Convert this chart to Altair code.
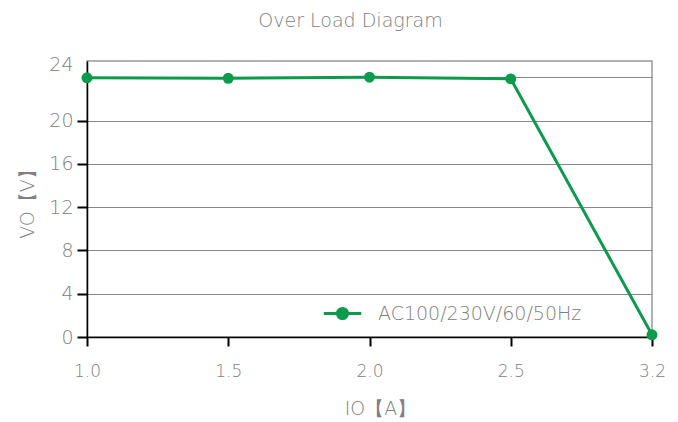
import altair as alt
import pandas as pd

io_values = ["1.0", "1.5", "2.0", "2.5", "3.2"]
vo_values = [23.95, 23.9, 24.0, 23.85, 0.2]
series_name = ["AC100/230V/60/50Hz"] * 5
y_ticks = [0, 4, 8, 12, 16, 20, 24]

df = pd.DataFrame({"IO": io_values, "VO": vo_values, "series": series_name})

GREEN = "#0c9b4c"
GRAY = "#808080"
FONT = "DejaVu Sans"
W = 200

legend_symbol = "M-1,0L1,0M-0.27,0a0.27,0.27 0 1,0 0.54,0a0.27,0.27 0 1,0 -0.54,0"

x_enc = alt.X(
    "IO:O",
    sort=io_values,
    scale=alt.Scale(type="point", padding=0),
    axis=alt.Axis(
        title="IO【A】",
        labelAngle=0,
        grid=False,
        domainColor="black",
        domainWidth=1.5,
        tickColor="black",
        tickWidth=2,
        tickSize=9,
        labelPadding=17,
        labelFontSize=17,
        labelColor=GRAY,
        labelFont=FONT,
        labelFontWeight=W,
        titleFont=FONT,
        titleFontWeight=W,
        titleFontSize=19,
        titleColor=GRAY,
        titleX=293,
        titleY=71,
        titleBaseline="middle",
        titleAnchor="start",
        titleAlign="center",
    ),
)

y_enc = alt.Y(
    "VO:Q",
    scale=alt.Scale(domain=[0, 25.5], nice=False, zero=True),
    axis=alt.Axis(
        title="VO【V】",
        values=y_ticks,
        grid=True,
        gridColor="#888888",
        gridWidth=1,
        domainColor="black",
        domainWidth=1.5,
        tickColor="black",
        tickWidth=2,
        tickSize=10,
        tickOpacity={"condition": {"test": "datum.value == 24", "value": 0}, "value": 1},
        labelOffset={"condition": {"test": "datum.value == 24", "value": -13}, "value": 0},
        labelPadding=4,
        labelFontSize=19,
        labelColor=GRAY,
        labelFont=FONT,
        labelFontWeight=W,
        titleFont=FONT,
        titleFontWeight=W,
        titleFontSize=19,
        titleColor=GRAY,
        titleX=-50,
        titleY=138,
        titleAngle=270,
        titleAlign="center",
        titleBaseline="bottom",
    ),
)

line = alt.Chart(df).mark_line(strokeWidth=3, color=GREEN).encode(
    x=x_enc,
    y=y_enc,
    color=alt.Color(
        "series:N",
        scale=alt.Scale(range=[GREEN]),
        legend=alt.Legend(
            title=None,
            orient="none",
            legendX=235,
            legendY=232,
            symbolType=legend_symbol,
            symbolSize=1400,
            symbolStrokeWidth=3,
            symbolStrokeColor=GREEN,
            symbolFillColor=GREEN,
            labelFontSize=19,
            labelColor=GRAY,
            labelFont=FONT,
            labelFontWeight=W,
            labelOffset=15,
            labelLimit=400,
            padding=0,
        ),
    ),
)

points = alt.Chart(df).mark_circle(size=120, opacity=1, color=GREEN).encode(
    x=alt.X("IO:O", sort=io_values),
    y="VO:Q",
)

chart = (
    alt.layer(line, points)
    .properties(
        width=565,
        height=276,
        autosize=alt.AutoSizeParams(type="none"),
        padding={"left": 79, "top": 53, "right": 18, "bottom": 82},
        title=alt.TitleParams(
            "Over Load Diagram",
            font=FONT,
            fontWeight=W,
            fontSize=19,
            color=GRAY,
            anchor="middle",
            dx=-19,
            offset=24,
        ),
    )
    .configure_view(stroke="#999999", strokeWidth=1.5)
)

chart.save("out.html", embed_options={"renderer": "svg", "actions": False})
